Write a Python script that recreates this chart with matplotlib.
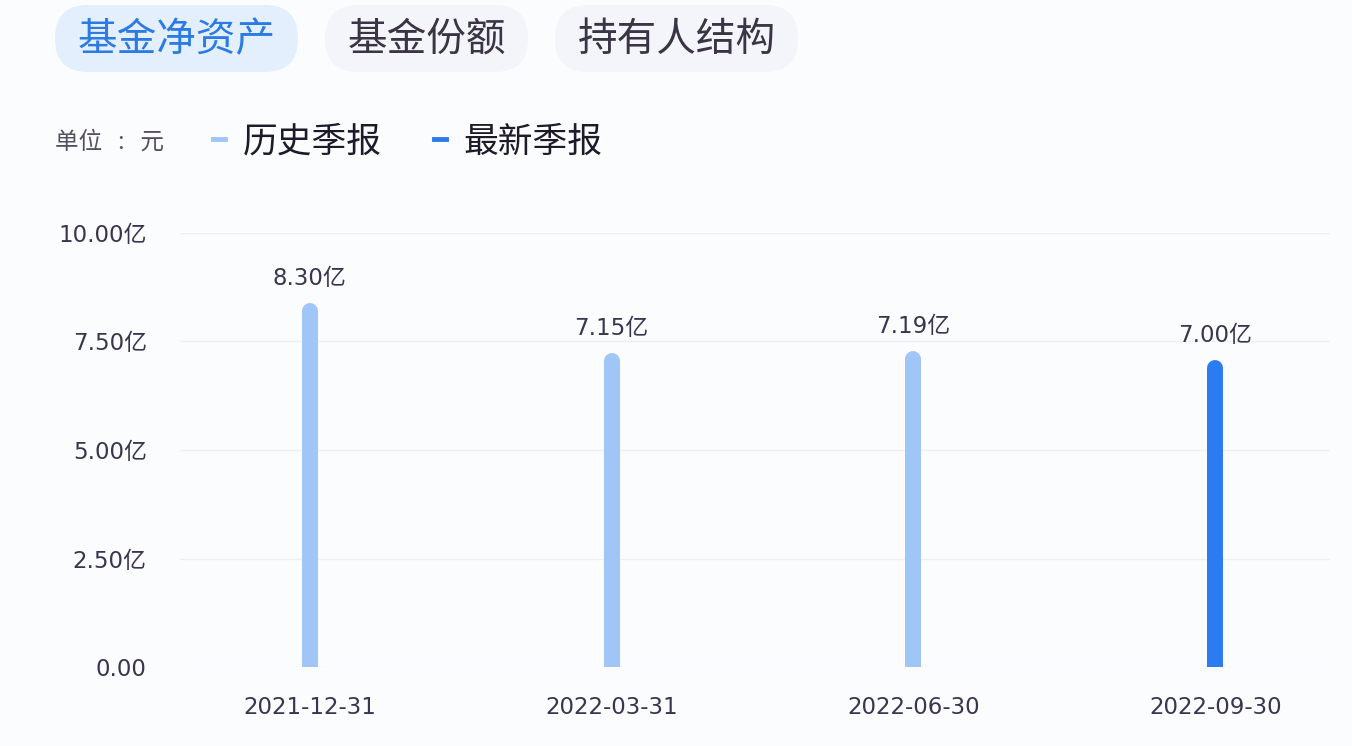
import matplotlib.pyplot as plt
from matplotlib.patches import FancyBboxPatch
from matplotlib.lines import Line2D

plt.rcParams['font.family'] = ['Noto Sans CJK SC', 'DejaVu Sans']
num_font = ['DejaVu Sans', 'Noto Sans CJK SC']

dates = ["2021-12-31", "2022-03-31", "2022-06-30", "2022-09-30"]
values = [8.30, 7.15, 7.19, 7.00]   # 亿元
labels = ["8.30亿", "7.15亿", "7.19亿", "7.00亿"]
yticks = [0, 2.5, 5, 7.5, 10]
ytick_labels = ["0.00", "2.50亿", "5.00亿", "7.50亿", "10.00亿"]
tabs = ["基金净资产", "基金份额", "持有人结构"]

light = "#9fc6f7"
dark = "#2a7cf0"
txt = "#3b3450"
bg = "#fbfcfe"

fig = plt.figure(figsize=(13.52, 7.46), dpi=100)
fig.patch.set_facecolor(bg)
ax = fig.add_axes([180/1352, 1-667/746, 1150/1352, 434/746])
ax.set_facecolor(bg)

xs = list(range(len(values)))
for i, v in enumerate(values):
    c = dark if i == len(values)-1 else light
    ax.plot([xs[i], xs[i]], [-1, v - 0.1], color=c, lw=11.5, solid_capstyle='round')
    ax.text(xs[i], v + 0.38, labels[i], ha='center', va='bottom', fontsize=16.5,
            color=txt, family=num_font)

ax.set_xlim(-0.43, 3.38)
ax.set_ylim(0, 10)
ax.set_yticks(yticks)
ax.set_yticklabels(ytick_labels, family=num_font)
ax.set_xticks(xs)
ax.set_xticklabels(dates, family=num_font)
ax.tick_params(axis='both', length=0, labelsize=16.5, labelcolor=txt)
ax.tick_params(axis='y', pad=24)
ax.tick_params(axis='x', pad=21)
ax.grid(axis='y', color='#eef0f5', lw=1)
for s in ax.spines.values():
    s.set_visible(False)

# tabs
tab_boxes = [(55, 298), (325, 528), (555, 798)]
for k, (t, (x0, x1)) in enumerate(zip(tabs, tab_boxes)):
    active = k == 0
    fc = "#e4effd" if active else "#f3f5fa"
    p = FancyBboxPatch((x0/100, (746-72)/100), (x1-x0)/100, 0.67,
                       boxstyle="round,pad=0,rounding_size=0.33",
                       transform=fig.dpi_scale_trans, fc=fc, ec='none')
    fig.patches.append(p)
    fig.text((x0+x1)/2/1352, 1-40/746, t, ha='center', va='center', fontsize=28.5,
             color="#2c7be5" if active else "#3a3445")

fig.text(55/1352, 1-142/746, "单位   :   元", ha='left', va='center', fontsize=17, color="#555060")

handles = [Line2D([], [], color=light, lw=3.5), Line2D([], [], color=dark, lw=3.5)]
fig.legend(handles, ["历史季报", "最新季报"], loc='center left',
           bbox_to_anchor=(182/1352, 1-142/746), ncol=2, frameon=False,
           handlelength=0.35, handletextpad=0.5, columnspacing=1.5,
           prop={'size': 25}, labelcolor="#1e1a2a")

fig.savefig("out.png", dpi=100, facecolor=bg)
